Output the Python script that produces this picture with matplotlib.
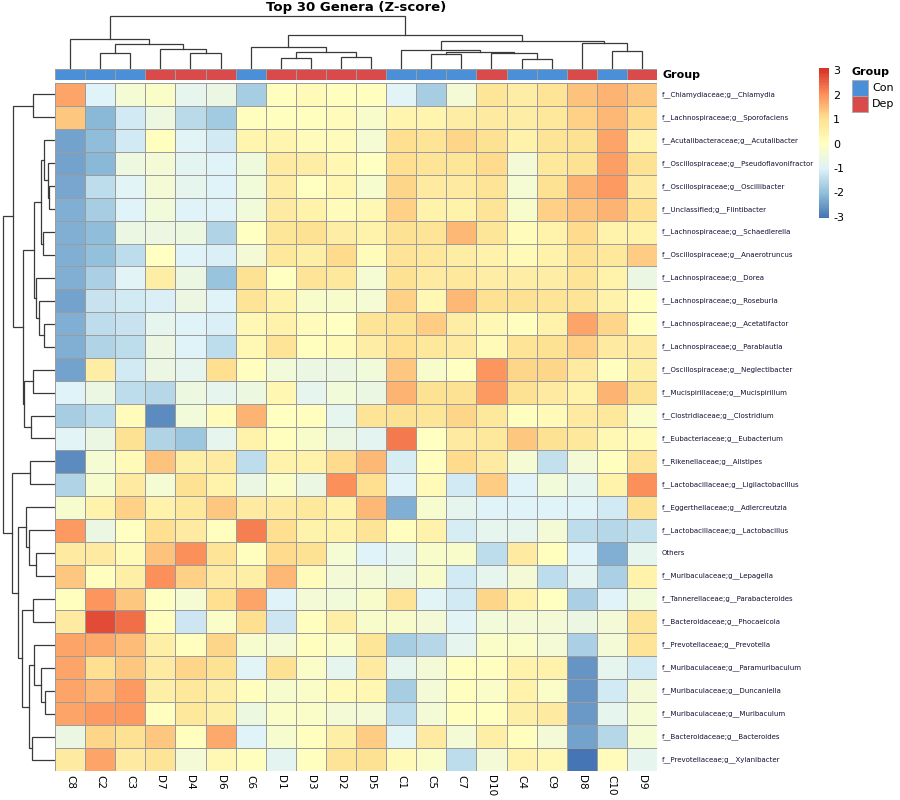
import numpy as np
import matplotlib
matplotlib.use("Agg")
import matplotlib.pyplot as plt
from matplotlib.colors import LinearSegmentedColormap, ListedColormap, Normalize
from matplotlib.patches import Rectangle

plt.rcParams['axes.unicode_minus'] = False

# samples in clustered order and their group
samples = ['C8', 'C2', 'C3', 'D7', 'D4', 'D6', 'C6', 'D1', 'D3', 'D2',
           'D5', 'C1', 'C5', 'C7', 'D10', 'C4', 'C9', 'D8', 'C10', 'D9']
groups = ['Con', 'Con', 'Con', 'Dep', 'Dep', 'Dep', 'Con', 'Dep', 'Dep', 'Dep',
          'Dep', 'Con', 'Con', 'Con', 'Dep', 'Con', 'Con', 'Dep', 'Con', 'Dep']

genera = [
    'f__Chlamydiaceae;g__Chlamydia', 'f__Lachnospiraceae;g__Sporofaciens',
    'f__Acutalibacteraceae;g__Acutalibacter', 'f__Oscillospiraceae;g__Pseudoflavonifractor',
    'f__Oscillospiraceae;g__Oscillibacter', 'f__Unclassified;g__Flintibacter',
    'f__Lachnospiraceae;g__Schaedlerella', 'f__Oscillospiraceae;g__Anaerotruncus',
    'f__Lachnospiraceae;g__Dorea', 'f__Lachnospiraceae;g__Roseburia',
    'f__Lachnospiraceae;g__Acetatifactor', 'f__Lachnospiraceae;g__Parablautia',
    'f__Oscillospiraceae;g__Neglectibacter', 'f__Mucispirillaceae;g__Mucispirillum',
    'f__Clostridiaceae;g__Clostridium', 'f__Eubacteriaceae;g__Eubacterium',
    'f__Rikenellaceae;g__Alistipes', 'f__Lactobacillaceae;g__Ligilactobacillus',
    'f__Eggerthellaceae;g__Adlercreutzia', 'f__Lactobacillaceae;g__Lactobacillus',
    'Others', 'f__Muribaculaceae;g__Lepagella',
    'f__Tannerellaceae;g__Parabacteroides', 'f__Bacteroidaceae;g__Phocaeicola',
    'f__Prevotellaceae;g__Prevotella', 'f__Muribaculaceae;g__Paramuribaculum',
    'f__Muribaculaceae;g__Duncaniella', 'f__Muribaculaceae;g__Muribaculum',
    'f__Bacteroidaceae;g__Bacteroides', 'f__Prevotellaceae;g__Xylanibacter',
]

# z-scores, one list per genus (columns in sample order above)
zscore = [
    [1.8, -1.0, -0.3, -0.1, -0.8, -0.6, -1.7, 0.05, 0.2, 0.05, 0.05, -0.9, -1.7, -0.35, 0.85, 0.6, 0.9, 1.4, 1.6, 1.35],
    [1.35, -2.1, -1.15, -0.55, -1.5, -1.8, 0.05, 0.05, 0.05, 0.1, -0.2, 0.35, 0.35, 0.6, 0.7, 0.6, 0.8, 1.2, 1.55, 1.1],
    [-2.4, -2.05, -1.15, 0.05, -0.95, -1.15, 0.35, 0.35, 0.1, 0.1, -0.3, 1.05, 0.9, 1.15, 1.0, 0.4, 0.9, 1.0, 1.75, 0.45],
    [-2.4, -2.1, -0.55, -0.4, -0.85, -1.0, -0.5, 0.7, 0.6, 0.3, 0.0, 1.05, 0.9, 0.85, 1.1, -0.35, 0.8, 0.95, 1.85, 0.95],
    [-2.35, -1.45, -0.95, -0.4, -0.8, -1.0, -0.45, 0.6, 0.0, 0.3, -0.25, 1.15, 0.65, 0.65, 0.9, -0.3, 1.0, 1.6, 1.9, 0.65],
    [-2.25, -1.7, -1.0, -0.45, -1.0, -1.0, -0.45, 0.7, 0.4, 0.1, 0.25, 1.25, 0.4, 0.4, 0.9, -0.2, 1.2, 1.4, 1.6, 1.05],
    [-2.25, -2.05, -0.65, -0.65, -0.55, -1.6, 0.0, 0.85, 0.95, 0.6, 0.4, 0.95, 0.9, 1.55, 0.85, 0.1, 0.4, 1.1, 0.4, 0.45],
    [-2.2, -2.0, -1.45, 0.0, -1.0, -1.05, -0.35, 0.8, 0.55, 1.1, 0.1, 0.9, 0.8, 0.6, 0.4, 0.15, 0.45, 0.95, 0.8, 1.3],
    [-2.25, -1.65, -0.95, 0.6, -0.6, -1.9, 0.95, 0.0, 0.9, 0.8, -0.3, 0.95, 0.65, 0.8, 0.6, 0.6, 0.6, 0.9, 0.45, -0.6],
    [-2.4, -1.3, -1.15, -1.05, -0.6, -1.0, 0.9, 0.4, -0.2, -0.2, -0.3, 1.2, 0.3, 1.55, 0.95, 0.95, 0.9, 0.9, 0.45, 0.05],
    [-2.2, -1.4, -1.3, -0.8, -1.0, -1.05, 0.25, 0.45, 0.1, 0.0, 0.9, 1.0, 1.3, 0.6, 0.25, 0.05, 0.45, 1.8, 1.15, 0.05],
    [-2.25, -1.6, -1.4, -0.6, -1.0, -1.45, 0.25, 0.9, 0.05, 0.2, 0.6, 1.05, 0.8, 0.7, 0.2, 0.9, 0.95, 1.25, 0.7, 0.7],
    [-2.4, 0.6, -1.15, -0.65, -0.8, 1.05, 0.05, -0.45, -0.65, -0.65, -0.45, 1.35, -0.2, 0.0, 1.95, 1.15, 1.15, 0.7, 0.05, 0.55],
    [-1.0, -0.65, -1.4, -1.55, -0.55, -0.8, -0.55, 0.3, -0.8, -0.45, -0.6, 1.6, 0.95, 0.95, 1.9, 0.95, 0.65, 0.4, 1.6, 0.95],
    [-1.7, -1.45, 0.1, -2.7, -0.45, 0.1, 1.6, 0.0, 0.05, -0.8, 0.9, 0.95, 0.85, 1.15, 0.8, 0.05, 0.15, 0.65, 0.8, -0.15],
    [-0.95, -0.65, 0.95, -1.6, -1.85, -0.8, 0.45, 0.05, -0.2, -0.65, -0.85, 2.3, 0.0, 0.7, 0.8, 1.35, 0.95, 0.8, 0.25, 0.15],
    [-2.7, -0.3, 0.15, 1.4, 0.55, 0.7, -1.4, 0.4, 0.45, 1.1, 1.55, -1.1, 0.05, 1.1, 0.7, -0.3, -1.35, -0.35, 0.05, 0.9],
    [-1.6, -0.25, 0.7, -0.3, 1.0, 0.4, -0.6, -0.1, -0.65, 2.0, 1.05, -1.0, 0.15, -1.2, 1.3, -1.0, -0.45, -0.8, 0.45, 2.0],
    [-0.25, 0.4, 1.2, 0.4, 0.8, 1.35, 0.7, 0.7, 0.8, 0.45, 1.55, -2.25, -0.25, -0.8, -1.0, -1.0, -1.0, -1.0, -1.15, 0.95],
    [1.9, -0.6, 0.0, 1.05, 0.65, 0.05, 2.2, 1.05, 0.4, 0.4, 0.9, 0.05, 0.45, -1.1, -0.8, -0.8, -0.35, -1.4, -1.55, -1.35],
    [0.7, 0.65, 0.15, 1.4, 2.0, 0.9, 0.05, 1.1, 0.95, -0.3, -1.0, -0.8, -0.2, -0.2, -1.45, 0.65, 0.05, -1.0, -2.25, -0.8],
    [1.35, 0.05, 0.55, 2.05, 1.2, 0.7, 0.55, 1.55, 0.1, -0.35, -0.35, -0.55, -0.2, -1.15, -0.8, -0.4, -1.4, -0.85, -1.65, 0.45],
    [0.05, 1.95, 1.35, 0.0, -0.3, 1.05, 1.8, -1.0, -0.4, -0.45, -0.2, 0.9, -0.95, -1.15, 1.15, 0.4, 0.0, -1.65, -1.0, -0.45],
    [0.65, 2.75, 2.4, 0.05, -1.25, -0.1, 1.05, -1.25, 0.05, 0.55, -0.2, -0.2, -0.4, -0.95, -0.45, -0.35, -0.4, -0.6, -0.4, 0.9],
    [1.8, 1.7, 1.45, 0.55, 0.05, 1.15, -0.25, -0.4, 0.05, -0.1, 0.85, -1.7, -1.55, -0.8, -0.15, -0.1, -0.35, -1.65, -0.4, 0.9],
    [1.8, 1.05, 1.35, 0.7, 1.15, 1.0, -0.95, 1.0, -0.1, -0.8, 0.65, -0.8, -0.4, 0.05, 0.05, 0.4, 0.45, -2.6, -0.8, -1.2],
    [1.8, 1.55, 1.9, 0.55, 0.8, 0.55, 0.05, -0.25, -0.1, 0.15, 0.3, -1.7, -0.4, 0.05, -0.15, 0.4, -0.1, -2.6, -1.15, -0.35],
    [1.8, 1.9, 1.9, 0.05, 0.8, 0.55, -0.55, -0.1, -0.15, -0.4, -0.4, -1.45, -0.4, 0.05, 0.0, 0.55, 0.65, -2.55, -0.8, -0.3],
    [-0.6, 1.15, 0.95, 1.35, 0.05, 1.7, -1.0, -0.25, 0.05, 0.55, 1.3, -0.95, 0.65, -0.4, 0.55, 0.05, -0.35, -2.4, -1.55, -0.3],
    [0.7, 1.75, 0.7, 0.9, -0.35, 0.25, 0.05, -0.85, 0.05, 0.9, 1.0, 0.15, -0.1, -1.45, -0.35, 0.4, 0.25, -3.0, 0.1, -0.8],
]

# cluster trees: (merge height, left, right); ints are leaf positions
col_tree = (53,
            (30, 0, (25, (16, 1, 2), (20, 3, (16, 4, 5)))),
            (34, (22, 6, (17, (11, 7, 8), (12, 9, 10))),
             (28, (19.5, 11, (17, (15, 12, 13), (16, 14, (10, 15, 16)))),
              (26, 17, (18, 18, 19)))))

row_tree = (52.3,
            (42, (22, 0, 1),
             (32, (20.7, (14.3, (11, 2, (6.7, 3, (5.7, 4, 5))), (12.3, 6, 7)),
                   (19, 8, (15.7, 9, (11, 10, 11)))),
              (31, (22.3, 12, 13), (24, 14, 15)))),
            (42.7, (25, 16, 17),
             (36.7, (29, 18, (26.3, 19, (19, 20, 21))),
              (32.7, (21.7, 22, 23),
               (25.7, (20.7, 24, (14.3, 25, (10, 26, 27))), (22.7, 28, 29))))))

group_colors = {'Con': '#4A8FD8', 'Dep': '#D94B4B'}
heat_colors = ['#4575B4', '#91BFDB', '#E0F3F8', '#FFFFBF', '#FEE090', '#FC8D59', '#D73027']

W, H = 900, 800
def box(x0, y0, x1, y1):
    return [x0 / W, 1 - y1 / H, (x1 - x0) / W, (y1 - y0) / H]

cmap = LinearSegmentedColormap.from_list('rdylbu', heat_colors, N=100)
norm = Normalize(vmin=-3.05, vmax=3.1)
grid_col = '#9c9c9c'

fig = plt.figure(figsize=(9, 8), dpi=100)

# heatmap
ax = fig.add_axes(box(55, 83, 657, 771))
Z = np.array(zscore)
mesh = ax.pcolormesh(Z, cmap=cmap, norm=norm, edgecolors=grid_col, linewidth=0.7)
ax.set_xlim(0, len(samples))
ax.set_ylim(len(genera), 0)
ax.axis('off')
for i, g in enumerate(genera):
    ax.text(len(samples) + 0.17, i + 0.5, g, va='center', ha='left', fontsize=5, color='#111133')
for j, s in enumerate(samples):
    ax.text(j + 0.5, len(genera) + 0.17, s, va='top', ha='center', rotation=270, fontsize=7.5)

# group annotation bar
ann = fig.add_axes(box(55, 69, 657, 79.5))
gidx = np.array([[0 if g == 'Con' else 1 for g in groups]])
ann.pcolormesh(gidx, cmap=ListedColormap([group_colors['Con'], group_colors['Dep']]),
               vmin=0, vmax=1, edgecolors=grid_col, linewidth=0.7)
ann.set_xlim(0, len(samples))
ann.set_ylim(0, 1)
ann.axis('off')
ann.text(len(samples) + 0.17, 0.45, 'Group', va='center', ha='left', fontsize=8, fontweight='bold')


def draw_tree(a, node, top):
    if isinstance(node, int):
        return node + 0.5, 0.0
    h, left, right = node
    pl, hl = draw_tree(a, left, top)
    pr, hr = draw_tree(a, right, top)
    if top:
        a.plot([pl, pl, pr, pr], [hl, h, h, hr], color='#3a3a3a', lw=0.9, solid_joinstyle='miter')
    else:
        a.plot([hl, h, h, hr], [pl, pl, pr, pr], color='#3a3a3a', lw=0.9, solid_joinstyle='miter')
    return (pl + pr) / 2, h


cden = fig.add_axes(box(55, 14, 657, 69))
draw_tree(cden, col_tree, True)
cden.set_xlim(0, len(samples))
cden.set_ylim(0, 55)
cden.axis('off')

rden = fig.add_axes(box(0, 83, 55, 771))
draw_tree(rden, row_tree, False)
rden.set_xlim(55, 0)
rden.set_ylim(len(genera), 0)
rden.axis('off')

# colour key
cax = fig.add_axes(box(819, 68, 829, 218))
cb = fig.colorbar(mesh, cax=cax, ticks=[-3, -2, -1, 0, 1, 2, 3])
cb.outline.set_visible(False)
cax.tick_params(length=0, labelsize=8, pad=3)

# group legend
fig.text(851 / W, 1 - 72 / H, 'Group', fontsize=8, fontweight='bold', va='center', ha='left')
for k, g in enumerate(['Con', 'Dep']):
    y0 = 80 + 16 * k
    fig.patches.append(Rectangle((852 / W, 1 - (y0 + 16) / H), 16 / W, 16 / H,
                                 transform=fig.transFigure, facecolor=group_colors[g],
                                 edgecolor='#aaaaaa', lw=0.6))
    fig.text(872 / W, 1 - (y0 + 8) / H, g, fontsize=8, va='center', ha='left')

fig.text(356 / W, 1 - 1.5 / H, 'Top 30 Genera (Z-score)', ha='center', va='top',
         fontsize=9.5, fontweight='bold')

fig.savefig('out.png', dpi=100)
